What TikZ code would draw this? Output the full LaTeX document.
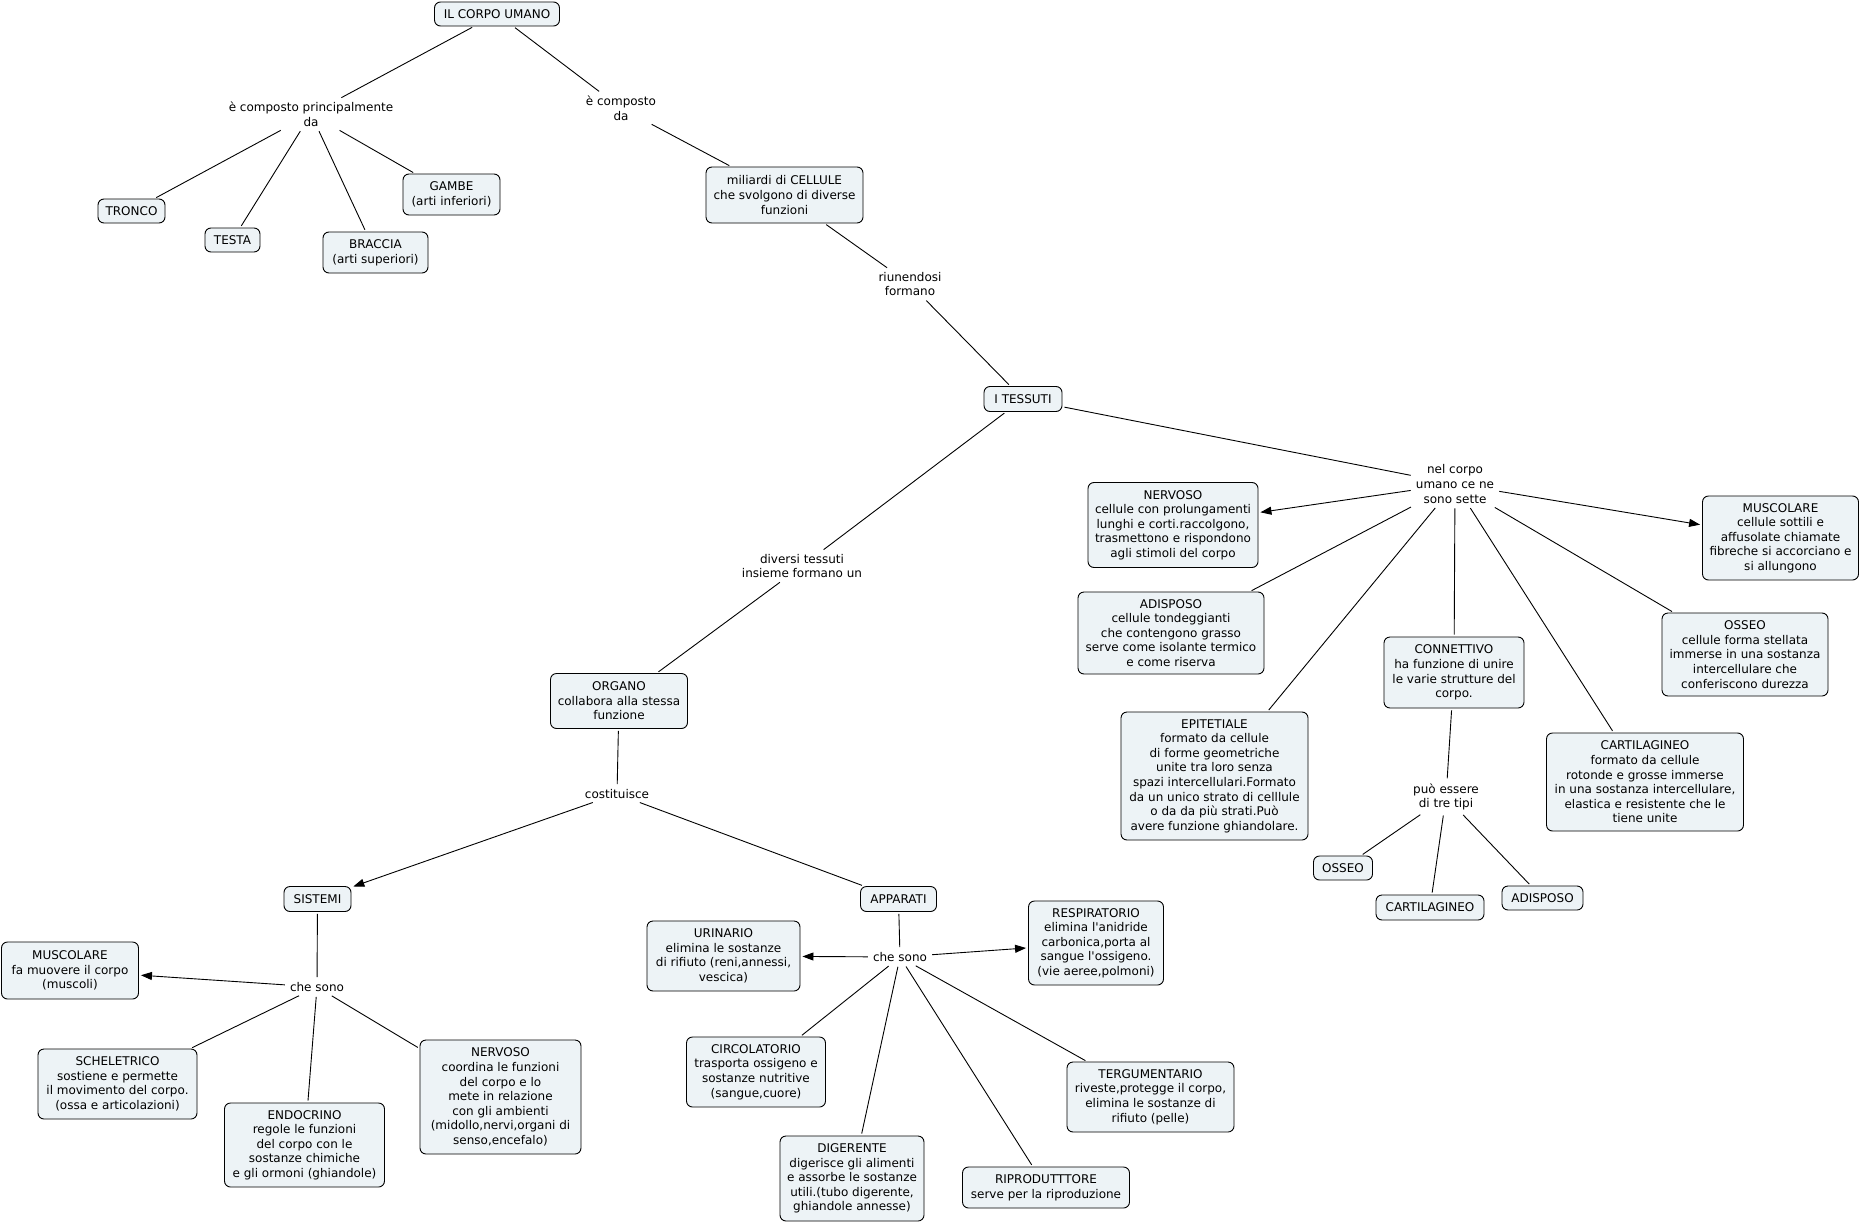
\documentclass[tikz,border=0pt]{standalone}
\usepackage{fontspec}
\setmainfont{DejaVu Sans}[Ligatures=TeXOff]
\usetikzlibrary{arrows.meta}
\definecolor{cfill}{RGB}{237,243,246}
\newcommand\fsz{\fontsize{12}{14.6}\selectfont}
\begin{document}
\begin{tikzpicture}[x=1pt,y=-1pt,
  concept/.style={draw=black, line width=0.9pt, fill=cfill, rounded corners=6pt, align=center, inner sep=2pt, font=\fsz},
  linkph/.style={align=center, inner xsep=3pt, inner ysep=3pt, font=\fsz},
  edge/.style={line width=0.9pt, shorten <=2pt, shorten >=2pt},
  arr/.style={edge, -{Triangle[length=11pt,width=8pt]}}]
\fill[white] (0,0) rectangle (1861,1223);
\useasboundingbox (0,0) rectangle (1861,1223);

% concepts
\node[concept, minimum width=125pt, minimum height=24pt] (corpo) at (497,14) {IL CORPO UMANO};
\node[concept, minimum width=67pt, minimum height=24pt] (tronco) at (131.5,211) {TRONCO};
\node[concept, minimum width=55pt, minimum height=24pt] (testa) at (232.5,240) {TESTA};
\node[concept, minimum width=105pt, minimum height=41pt] (braccia) at (375.5,252.5) {BRACCIA\\(arti superiori)};
\node[concept, minimum width=97pt, minimum height=41pt] (gambe) at (451.5,194.5) {GAMBE\\(arti inferiori)};
\node[concept, minimum width=157pt, minimum height=56pt] (cellule) at (784.5,195) {miliardi di CELLULE\\che svolgono di diverse\\funzioni};
\node[concept, minimum width=78pt, minimum height=25pt] (tessuti) at (1023,399) {I TESSUTI};
\node[concept, minimum width=170pt, minimum height=85pt] (tnerv) at (1173,525) {NERVOSO\\cellule con prolungamenti\\lunghi e corti.raccolgono,\\trasmettono e rispondono\\agli stimoli del corpo};
\node[concept, minimum width=156pt, minimum height=84pt] (tmusc) at (1780.5,538) {MUSCOLARE\\cellule sottili e\\affusolate chiamate\\fibreche si accorciano e\\si allungono};
\node[concept, minimum width=186pt, minimum height=82pt] (tadip) at (1171,633) {ADISPOSO\\cellule tondeggianti\\che contengono grasso\\serve come isolante termico\\e come riserva};
\node[concept, minimum width=140pt, minimum height=71pt] (connet) at (1454,672.5) {CONNETTIVO\\ha funzione di unire\\le varie strutture del\\corpo.};
\node[concept, minimum width=166pt, minimum height=83pt] (tosseo) at (1745,654.5) {OSSEO\\cellule forma stellata\\immerse in una sostanza\\intercellulare che\\conferiscono durezza};
\node[concept, minimum width=187pt, minimum height=128pt] (epit) at (1214.5,776) {EPITETIALE\\formato da cellule\\di forme geometriche\\unite tra loro senza\\spazi intercellulari.Formato\\da un unico strato di celllule\\o da da più strati.Può\\avere funzione ghiandolare.};
\node[concept, minimum width=197pt, minimum height=98pt] (tcart) at (1645,782) {CARTILAGINEO\\formato da cellule\\rotonde e grosse immerse\\in una sostanza intercellulare,\\elastica e resistente che le\\tiene unite};
\node[concept, minimum width=59pt, minimum height=24pt] (cosseo) at (1343,868) {OSSEO};
\node[concept, minimum width=108pt, minimum height=25pt] (ccart) at (1430,907.5) {CARTILAGINEO};
\node[concept, minimum width=81pt, minimum height=24pt] (cadip) at (1542.5,898) {ADISPOSO};
\node[concept, minimum width=137pt, minimum height=55pt] (organo) at (619,701) {ORGANO\\collabora alla stessa\\funzione};
\node[concept, minimum width=67pt, minimum height=25pt] (sistemi) at (317.5,899) {SISTEMI};
\node[concept, minimum width=137pt, minimum height=57pt] (smusc) at (70,970.5) {MUSCOLARE\\fa muovere il corpo\\(muscoli)};
\node[concept, minimum width=159pt, minimum height=70pt] (schel) at (117.5,1084) {SCHELETRICO\\sostiene e permette\\il movimento del corpo.\\(ossa e articolazioni)};
\node[concept, minimum width=160pt, minimum height=84pt] (endo) at (304.5,1145) {ENDOCRINO\\regole le funzioni\\del corpo con le\\sostanze chimiche\\e gli ormoni (ghiandole)};
\node[concept, minimum width=161pt, minimum height=114pt] (snerv) at (500.5,1097) {NERVOSO\\coordina le funzioni\\del corpo e lo\\mete in relazione\\con gli ambienti\\(midollo,nervi,organi di\\senso,encefalo)};
\node[concept, minimum width=76pt, minimum height=25pt] (apparati) at (898.5,899) {APPARATI};
\node[concept, minimum width=153pt, minimum height=70pt] (urin) at (723.5,956) {URINARIO\\elimina le sostanze\\di rifiuto (reni,annessi,\\vescica)};
\node[concept, minimum width=135pt, minimum height=84pt] (resp) at (1096,943) {RESPIRATORIO\\elimina l'anidride\\carbonica,porta al\\sangue l'ossigeno.\\(vie aeree,polmoni)};
\node[concept, minimum width=139pt, minimum height=70pt] (circ) at (756,1072) {CIRCOLATORIO\\trasporta ossigeno e\\sostanze nutritive\\(sangue,cuore)};
\node[concept, minimum width=167pt, minimum height=70pt] (terg) at (1150.5,1097) {TERGUMENTARIO\\riveste,protegge il corpo,\\elimina le sostanze di\\rifiuto (pelle)};
\node[concept, minimum width=144pt, minimum height=85pt] (dig) at (852,1178.5) {DIGERENTE\\digerisce gli alimenti\\e assorbe le sostanze\\utili.(tubo digerente,\\ghiandole annesse)};
\node[concept, minimum width=167pt, minimum height=41pt] (ripr) at (1046,1187.5) {RIPRODUTTTORE\\serve per la riproduzione};

% linking phrases
\node[linkph] (l1) at (311,114) {è composto principalmente\\da};
\node[linkph] (l2) at (621,108) {è composto\\da};
\node[linkph] (l3) at (910,284) {riunendosi\\formano};
\node[linkph] (l4) at (802,566) {diversi tessuti\\insieme formano un};
\node[linkph] (l5) at (1455,484) {nel corpo\\umano ce ne\\sono sette};
\node[linkph] (l6) at (1446,797) {può essere\\di tre tipi};
\node[linkph] (l7) at (617,794) {costituisce};
\node[linkph] (l8) at (317,987) {che sono};
\node[linkph] (l9) at (900,957) {che sono};

% connectors
\draw[edge] (corpo) -- (l1);
\draw[edge] (l1) -- (tronco);
\draw[edge] (l1) -- (testa);
\draw[edge] (l1) -- (braccia);
\draw[edge] (l1) -- (gambe);
\draw[edge] (corpo) -- (l2);
\draw[edge] (l2) -- (cellule);
\draw[edge] (cellule) -- (l3);
\draw[edge] (l3) -- (tessuti);
\draw[edge] (tessuti) -- (l4);
\draw[edge] (l4) -- (organo);
\draw[edge] (tessuti) -- (l5);
\draw[arr] (l5) -- (tnerv);
\draw[arr] (l5) -- (tmusc);
\draw[edge] (l5) -- (tadip);
\draw[edge] (l5) -- (epit);
\draw[edge] (l5) -- (connet);
\draw[edge] (l5) -- (tcart);
\draw[edge] (l5) -- (tosseo);
\draw[edge] (connet) -- (l6);
\draw[edge] (l6) -- (cosseo);
\draw[edge] (l6) -- (ccart);
\draw[edge] (l6) -- (cadip);
\draw[edge] (organo) -- (l7);
\draw[arr] (l7) -- (sistemi);
\draw[edge] (l7) -- (apparati);
\draw[edge] (sistemi) -- (l8);
\draw[arr] (l8) -- (smusc);
\draw[edge] (l8) -- (schel);
\draw[edge] (l8) -- (endo);
\draw[edge] (l8) -- (snerv);
\draw[edge] (apparati) -- (l9);
\draw[arr] (l9) -- (urin);
\draw[arr] (l9) -- (resp);
\draw[edge] (l9) -- (circ);
\draw[edge] (l9) -- (dig);
\draw[edge] (l9) -- (ripr);
\draw[edge] (l9) -- (terg);
\end{tikzpicture}
\end{document}
